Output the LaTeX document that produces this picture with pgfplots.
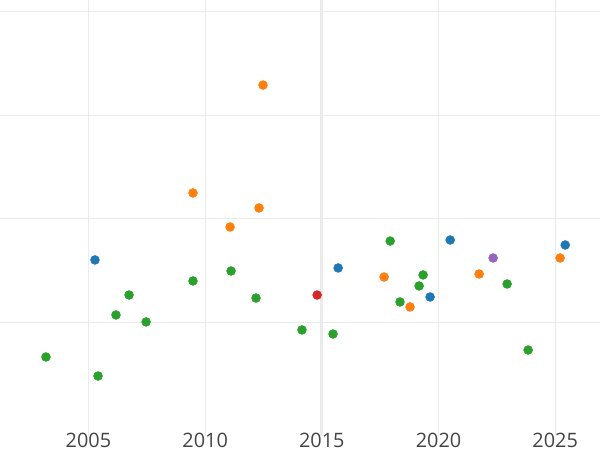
\documentclass[border=0pt]{standalone}
\usepackage{pgfplots}
\pgfplotsset{compat=1.18}
\usepackage{fontspec}
\setmainfont{Open Sans}
\definecolor{cblue}{HTML}{1F77B4}
\definecolor{corange}{HTML}{FF7F0E}
\definecolor{cgreen}{HTML}{2CA02C}
\definecolor{cred}{HTML}{D62728}
\definecolor{cpurple}{HTML}{9467BD}
\definecolor{gridc}{HTML}{EBEBEB}
\definecolor{tickc}{HTML}{444444}
\begin{document}
\begin{tikzpicture}
\begin{axis}[
  scale only axis,
  width=432pt, height=313.9pt,
  xmin=2001.21, xmax=2026.92,
  ymin=-0.0865, ymax=4.106,
  axis line style={draw=none},
  xtick={2005,2010,2015,2020,2025},
  ytick={1,2,3,4},
  yticklabels={},
  yticklabel style={inner sep=0pt, outer sep=0pt},
  major tick length=0pt,
  grid=major,
  major grid style={gridc, line width=0.72pt},
  xticklabel style={font=\fontsize{14.3}{16}\selectfont, text=tickc, anchor=north, inner sep=0pt, yshift=2.4pt},
  /pgf/number format/assume math mode=true,
  /pgf/number format/1000 sep={},
  clip=false,
]
\addplot[gridc, line width=2.1pt, forget plot] coordinates {(2015,-0.0865) (2015,4.106)};
% green
\addplot[only marks, mark=*, mark size=3.2pt, cgreen, mark options={draw=cgreen, fill=cgreen}] coordinates {
(2003.18,0.673) (2005.41,0.490) (2006.18,1.077) (2006.74,1.269) (2007.47,1.010)
(2009.48,1.404) (2011.11,1.500) (2012.18,1.240) (2014.15,0.933) (2015.48,0.894)
(2017.93,1.788) (2018.35,1.202) (2019.17,1.356) (2019.34,1.462) (2022.94,1.375)
(2023.84,0.740)};
% orange
\addplot[only marks, mark=*, mark size=3.2pt, corange, mark options={draw=corange, fill=corange}] coordinates {
(2012.48,3.288) (2009.48,2.250) (2012.31,2.106) (2011.07,1.923) (2017.67,1.442)
(2018.78,1.154) (2021.74,1.471) (2025.21,1.625)};
% blue
\addplot[only marks, mark=*, mark size=3.2pt, cblue, mark options={draw=cblue, fill=cblue}] coordinates {
(2005.28,1.606) (2015.70,1.529) (2020.50,1.798) (2019.64,1.250) (2025.43,1.750)};
% red
\addplot[only marks, mark=*, mark size=3.2pt, cred, mark options={draw=cred, fill=cred}] coordinates {
(2014.80,1.269)};
% purple
\addplot[only marks, mark=*, mark size=3.2pt, cpurple, mark options={draw=cpurple, fill=cpurple}] coordinates {
(2022.34,1.625)};
\end{axis}
\pgfresetboundingbox
\useasboundingbox ([yshift=-11.8pt]current axis.south west) rectangle (current axis.north east);
\end{tikzpicture}
\end{document}
